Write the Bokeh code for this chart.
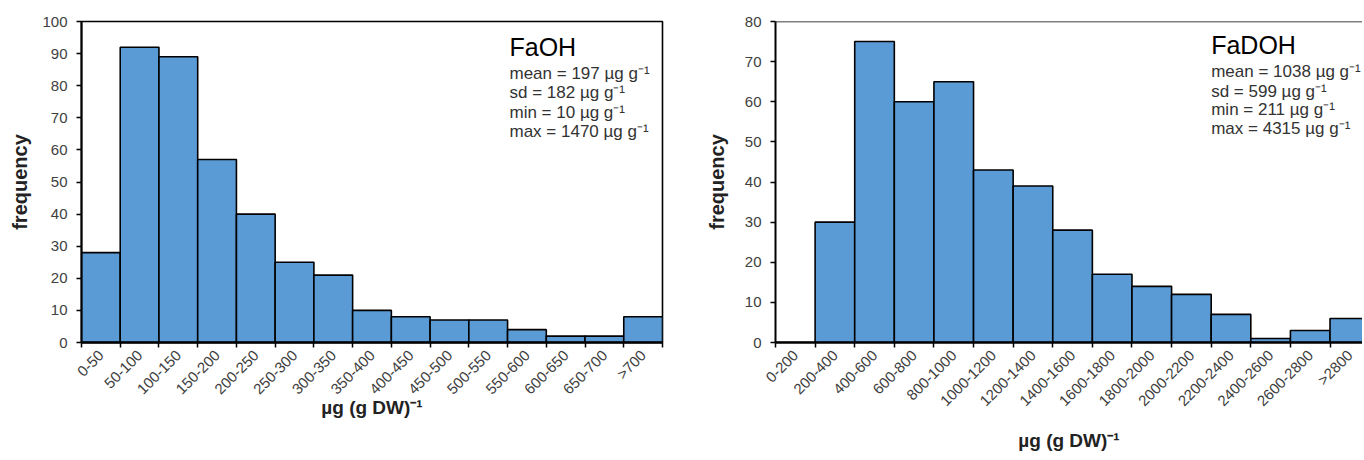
import math
from bokeh.plotting import figure
from bokeh.layouts import row
from bokeh.models import ColumnDataSource, FixedTicker, Range1d, Label, Span
from bokeh.embed import file_html
from bokeh.resources import INLINE

# ---------------- data ----------------
faoh_bins = ["0-50", "50-100", "100-150", "150-200", "200-250", "250-300", "300-350",
             "350-400", "400-450", "450-500", "500-550", "550-600", "600-650", "650-700", ">700"]
faoh_freq = [28, 92, 89, 57, 40, 25, 21, 10, 8, 7, 7, 4, 2, 2, 8]
faoh_stats = ["mean = 197 µg g\u207b\u00b9", "sd = 182 µg g\u207b\u00b9",
              "min = 10 µg g\u207b\u00b9", "max = 1470 µg g\u207b\u00b9"]

fadoh_bins = ["0-200", "200-400", "400-600", "600-800", "800-1000", "1000-1200", "1200-1400",
              "1400-1600", "1600-1800", "1800-2000", "2000-2200", "2200-2400", "2400-2600",
              "2600-2800", ">2800"]
fadoh_freq = [0, 30, 75, 60, 65, 43, 39, 28, 17, 14, 12, 7, 1, 3, 6]
fadoh_stats = ["mean = 1038 µg g\u207b\u00b9", "sd = 599 µg g\u207b\u00b9",
               "min = 211 µg g\u207b\u00b9", "max = 4315 µg g\u207b\u00b9"]

y_label = "frequency"
x_label = "µg (g DW)\u207b\u00b9"

BAR = "#5B9BD5"
FONT = "Liberation Sans"
TICKC = "#404040"


def make_hist(bins, freq, ymax, title, stats, width, height, bl, br, xend, full_outline,
              title_x, title_y, stat_ys, xlab_standoff, ylab_standoff):
    n = len(bins)
    idx = list(range(n))
    src = ColumnDataSource(dict(left=idx, right=[i + 1 for i in idx], top=freq,
                                bottom=[0] * n))
    p = figure(width=width, height=height, output_backend="svg", toolbar_location=None,
               x_range=Range1d(0, xend), y_range=Range1d(0, ymax),
               min_border_left=bl, min_border_right=br, min_border_top=21,
               min_border_bottom=height - 21 - 321)
    p.quad(left="left", right="right", top="top", bottom="bottom", source=src,
           fill_color=BAR, line_color="black", line_width=1.6)
    p.xgrid.visible = False
    p.ygrid.visible = False
    p.background_fill_color = "white"
    p.border_fill_color = "white"
    if full_outline:
        p.outline_line_color = "black"
        p.outline_line_width = 1.6
    else:
        p.outline_line_color = None
        p.add_layout(Span(location=ymax, dimension="width", line_color="black",
                          line_width=1.6))

    # x axis: labels at bin centres, tick marks at bin edges
    xa = p.xaxis[0]
    centers = [i + 0.5 for i in idx]
    xa.ticker = FixedTicker(ticks=centers, minor_ticks=list(range(n + 1)))
    xa.major_label_overrides = {c: b for c, b in zip(centers, bins)}
    xa.major_label_orientation = math.pi / 4
    xa.major_tick_line_color = None
    xa.minor_tick_out = 5
    xa.minor_tick_in = 0
    xa.minor_tick_line_color = "black"
    xa.minor_tick_line_width = 1.5
    xa.axis_line_color = "black"
    xa.axis_line_width = 2.5
    xa.major_label_text_font = FONT
    xa.major_label_text_font_size = "15px"
    xa.major_label_text_color = TICKC
    xa.major_label_standoff = 4
    xa.axis_label = x_label
    xa.axis_label_text_font = FONT
    xa.axis_label_text_font_style = "bold"
    xa.axis_label_text_font_size = "19px"
    xa.axis_label_text_color = "#222222"
    xa.axis_label_standoff = xlab_standoff

    ya = p.yaxis[0]
    ya.ticker = FixedTicker(ticks=list(range(0, ymax + 1, 10)))
    ya.minor_tick_line_color = None
    ya.major_tick_out = 5
    ya.major_tick_in = 0
    ya.major_tick_line_color = "black"
    ya.major_tick_line_width = 1.5
    ya.axis_line_color = "black"
    ya.axis_line_width = 2
    ya.major_label_text_font = FONT
    ya.major_label_text_font_size = "15px"
    ya.major_label_text_color = TICKC
    ya.major_label_standoff = 9
    ya.axis_label = y_label
    ya.axis_label_text_font = FONT
    ya.axis_label_text_font_style = "bold"
    ya.axis_label_text_font_size = "20px"
    ya.axis_label_text_color = "#222222"
    ya.axis_label_standoff = ylab_standoff

    p.add_layout(Label(x=title_x, y=title_y, text=title, text_font=FONT,
                       text_font_size="25px", text_color="#000000",
                       text_baseline="middle", text_align="left"))
    for s, yy in zip(stats, stat_ys):
        p.add_layout(Label(x=title_x, y=yy, text=s, text_font=FONT,
                           text_font_size="17px", text_color="#333333",
                           text_baseline="middle", text_align="left"))
    return p


p1 = make_hist(faoh_bins, faoh_freq, 100, "FaOH", faoh_stats,
               width=702, height=455, bl=81, br=40, xend=len(faoh_bins), full_outline=True,
               title_x=11.05, title_y=92.2, stat_ys=[83.8, 77.9, 71.7, 65.7],
               xlab_standoff=-9, ylab_standoff=8)
p2 = make_hist(fadoh_bins, fadoh_freq, 80, "FaDOH", fadoh_stats,
               width=660, height=455, bl=70, br=0, xend=14.82, full_outline=False,
               title_x=11.0, title_y=74.1, stat_ys=[67.6, 62.6, 58.1, 53.4],
               xlab_standoff=12, ylab_standoff=14)

layout = row(p1, p2)
open("out.html", "w").write(file_html(layout, INLINE))
